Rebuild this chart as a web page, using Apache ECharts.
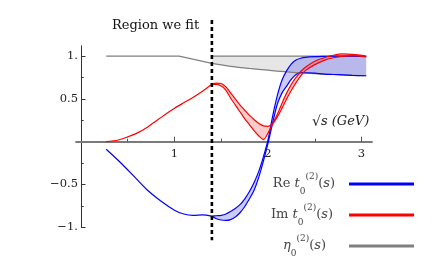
<!DOCTYPE html>
<html><head><meta charset="utf-8">
<script src="https://cdn.jsdelivr.net/npm/echarts@6/dist/echarts.min.js"></script>
<style>html,body{margin:0;padding:0;background:#fff}#c{width:447px;height:267px}</style>
</head><body><div id="c"></div>
<script>
// ---- axis ticks ----
const xTickValues = [1, 2, 3];
const xMinorTicks = [0.5, 1.5, 2.5];
const yTickValues = [-1, -0.5, 0.5, 1];
const yMinorTicks = [-0.75, -0.25, 0.25, 0.75];
const fitBoundary = 1.4;
const dashExtent = [1.42, -1.152];

// ---- below the fit boundary (single curves) ----
const reLowX  = [0.27, 0.4, 0.55, 0.7, 0.85, 1.0, 1.1, 1.2, 1.3, 1.4];
const reLowY  = [-0.088, -0.22, -0.385, -0.555, -0.69, -0.80, -0.845, -0.86, -0.855, -0.87];
const imLowX  = [0.27, 0.4, 0.5, 0.6, 0.71, 0.8, 0.89, 1.0, 1.1, 1.18, 1.3, 1.4];
const imLowY  = [0, 0.02, 0.056, 0.10, 0.17, 0.24, 0.31, 0.39, 0.455, 0.505, 0.59, 0.67];
const etaLowX = [0.27, 1.05, 1.4];
const etaLowY = [1, 1, 0.915];

// ---- fitted region (bands) ----
const bandX = [1.4, 1.45, 1.5, 1.55, 1.6, 1.65, 1.7, 1.75, 1.8, 1.85, 1.9, 1.95, 2.0, 2.05, 2.1, 2.15, 2.2, 2.25, 2.3, 2.35, 2.4, 2.5, 2.6, 2.7, 2.8, 2.9, 3.05];
const reUpper = [-0.87, -0.865, -0.86, -0.845, -0.815, -0.78, -0.735, -0.67, -0.585, -0.48, -0.35, -0.18, 0.02, 0.30, 0.54, 0.72, 0.83, 0.91, 0.955, 0.975, 0.985, 0.993, 0.997, 1.0, 1.0, 1.0, 0.995];
const reLower = [-0.87, -0.9, -0.915, -0.92, -0.91, -0.88, -0.83, -0.76, -0.67, -0.57, -0.42, -0.23, -0.02, 0.22, 0.44, 0.57, 0.65, 0.73, 0.785, 0.805, 0.805, 0.80, 0.79, 0.785, 0.78, 0.775, 0.77];
const imUpper = [0.67, 0.685, 0.68, 0.64, 0.57, 0.5, 0.43, 0.37, 0.31, 0.26, 0.215, 0.185, 0.18, 0.21, 0.29, 0.39, 0.5, 0.6, 0.69, 0.77, 0.83, 0.9, 0.95, 0.98, 1.0, 1.005, 0.99];
const imLower = [0.67, 0.67, 0.65, 0.6, 0.51, 0.43, 0.35, 0.27, 0.2, 0.13, 0.07, 0.025, 0.1, 0.21, 0.32, 0.45, 0.57, 0.67, 0.75, 0.82, 0.87, 0.94, 0.98, 1.01, 1.025, 1.02, 1.0];
const etaBandX = [1.4, 1.6, 1.8, 2.0, 2.2, 2.4, 2.6, 2.8, 3.05];
const etaUpper = [1, 1, 1, 1, 1, 1, 1, 1, 1];
const etaLower = [0.915, 0.88, 0.856, 0.835, 0.815, 0.80, 0.79, 0.78, 0.77];

const BLUE = '#0000ff', RED = '#ff0000', GRAY = '#808080';
const SERIF = '"DejaVu Serif", "Liberation Serif", serif';
const zip = (xs, ys) => xs.map((x, i) => [x, ys[i]]);
const SM = 0.3;

function lineS(name, xs, ys, color, smooth) {
  return { type: 'line', name, color, data: zip(xs, ys), symbol: 'none', smooth: smooth,
    lineStyle: { color, width: 1.2 }, z: 3, silent: true };
}
function bandFill(xs, lo, hi, color) {
  return { type: 'custom', coordinateSystem: 'cartesian2d', data: [[xs[0], lo[0]]],
    silent: true, z: 1, clip: false,
    renderItem: (params, api) => {
      const top = xs.map((x, i) => api.coord([x, hi[i]]));
      const bot = xs.map((x, i) => api.coord([x, lo[i]])).reverse();
      return { type: 'polygon', shape: { points: top.concat(bot) },
        style: { fill: color, opacity: 0.2 } };
    } };
}
function band(name, xs, lo, hi, color) {
  return [bandFill(xs, lo, hi, color), lineS(name, xs, lo, color, SM), lineS(name, xs, hi, color, SM)];
}

const series = [].concat(
  band('eta', etaBandX, etaLower, etaUpper, GRAY),
  band('Re', bandX, reLower, reUpper, BLUE),
  band('Im', bandX, imLower, imUpper, RED),
  [lineS('eta', etaLowX, etaLowY, GRAY, false),
   lineS('Re', reLowX, reLowY, BLUE, SM),
   lineS('Im', imLowX, imLowY, RED, SM),
   { type: 'line', name: 'fit', data: [[fitBoundary, dashExtent[0]], [fitBoundary, dashExtent[1]]],
     symbol: 'none', clip: false, lineStyle: { color: '#000', width: 2.6, type: [4, 3] }, z: 5, silent: true }]
);

const richLeg = {
  n: { fontFamily: SERIF, fontSize: 13, color: '#444', lineHeight: 24, verticalAlign: 'middle' },
  i: { fontFamily: SERIF, fontSize: 13, fontStyle: 'italic', color: '#444', lineHeight: 24, verticalAlign: 'middle' },
  sb: { fontFamily: SERIF, fontSize: 9, color: '#444', lineHeight: 10, verticalAlign: 'bottom' },
  sp: { fontFamily: SERIF, fontSize: 9, color: '#444', lineHeight: 10, verticalAlign: 'top' },
  g9: { width: 9 }, g11: { width: 11 }, g18: { width: 18 }
};
function legendFor(name, color, topPx, label) {
  return { data: [{ name, itemStyle: { color } }], selectedMode: false, right: 33, top: topPx,
    icon: 'rect', itemWidth: 65, itemHeight: 3, align: 'right', padding: 0,
    formatter: () => label, textStyle: { rich: richLeg } };
}

// grid: x from -0.053 (px 76) to 3.112 (px 372); y from -1 (px 227.3) to 1.12 (px 45.8)
const GRID_H = 181.5, Y_MIN = -1, Y_MAX = 1.12;
const xAxisShift = -GRID_H * (0 - Y_MIN) / (Y_MAX - Y_MIN);   // move x axis up to y = 0
const yAxisShift = -296 * 0.053 / 3.165;                      // move y axis right to x = 0

const option = {
  animation: false,
  grid: { left: 76, top: 45.8, width: 296, height: GRID_H, containLabel: false },
  xAxis: [
    { type: 'value', min: -0.053, max: 3.112, position: 'bottom', offset: xAxisShift,
      axisLine: { onZero: false, lineStyle: { color: '#7a7a7a', width: 1.8 } },
      axisTick: { inside: true, length: 5, customValues: xTickValues, lineStyle: { color: '#555' } },
      axisLabel: { customValues: xTickValues, margin: 6, fontFamily: SERIF, fontSize: 11.5, color: '#222' },
      splitLine: { show: false } },
    { type: 'value', min: -0.053, max: 3.112, position: 'bottom', offset: xAxisShift,
      axisLine: { onZero: false, lineStyle: { opacity: 0 } },
      axisTick: { inside: true, length: 3, customValues: xMinorTicks, lineStyle: { color: '#555' } },
      axisLabel: { show: false }, splitLine: { show: false } }
  ],
  yAxis: [
    { type: 'value', min: Y_MIN, max: Y_MAX, position: 'left', offset: yAxisShift,
      axisLine: { show: true, onZero: false, lineStyle: { color: '#333', width: 1 } },
      axisTick: { show: true, inside: true, length: 4.5, customValues: yTickValues, lineStyle: { color: '#333' } },
      axisLabel: { customValues: yTickValues, margin: 3, fontFamily: SERIF, fontSize: 11.5, color: '#222',
        formatter: v => (v < 0 ? '\u2212' : '') + (Number.isInteger(v) ? Math.abs(v) + '.' : String(Math.abs(v))) },
      splitLine: { show: false } },
    { type: 'value', min: Y_MIN, max: Y_MAX, position: 'left', offset: yAxisShift,
      axisLine: { show: true, onZero: false, lineStyle: { opacity: 0 } },
      axisTick: { show: true, inside: true, length: 2.7, customValues: yMinorTicks, lineStyle: { color: '#333' } },
      axisLabel: { show: false }, splitLine: { show: false } }
  ],
  legend: [
    legendFor('Re', BLUE, 172, '{n|Re }{i|t}{sb|0}{sp|(2)}{n|(}{i|s}{n|)}{g9| }'),
    legendFor('Im', RED, 203, '{n|Im }{i|t}{sb|0}{sp|(2)}{n|(}{i|s}{n|)}{g11| }'),
    legendFor('eta', GRAY, 234, '{i|\u03b7}{sb|0}{sp|(2)}{n|(}{i|s}{n|)}{g18| }')
  ],
  graphic: [
    { type: 'text', left: 112, top: 19, silent: true,
      style: { text: 'Region we fit', font: '13px ' + SERIF, fill: '#111' } },
    { type: 'text', left: 312, top: 115, silent: true,
      style: { text: '{n|\u221a}{i|s (GeV)}',
        rich: { n: { fontFamily: SERIF, fontSize: 14, fill: '#222' },
                i: { fontFamily: SERIF, fontSize: 13, fontStyle: 'italic', fill: '#222' } } } }
  ],
  series
};
const chart = echarts.init(document.getElementById('c'), null, { renderer: 'canvas' });
chart.setOption(option);
</script></body></html>
